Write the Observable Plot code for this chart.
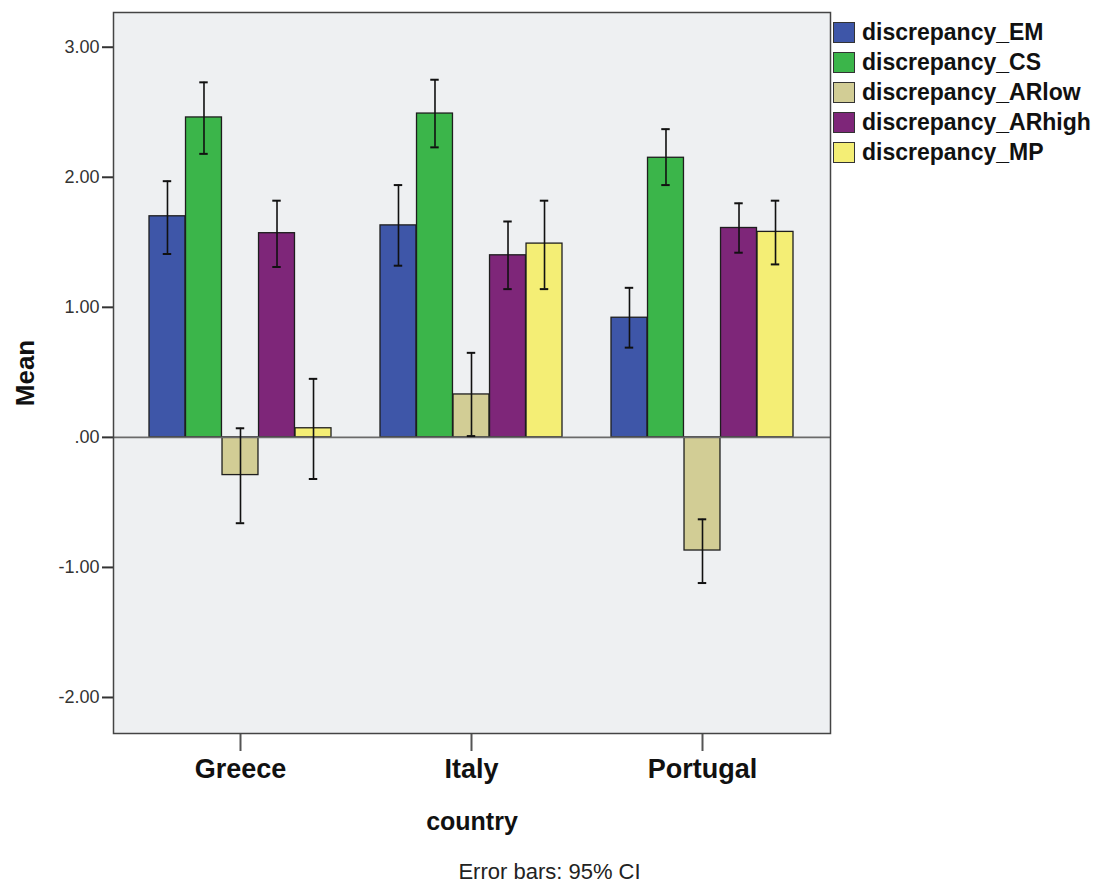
<!DOCTYPE html>
<html>
<head>
<meta charset="utf-8">
<script src="https://cdn.jsdelivr.net/npm/d3@7"></script>
<script src="https://cdn.jsdelivr.net/npm/@observablehq/plot@0.6"></script>
<style>
  body { margin: 0; background: #fff; }
  #wrap { position: relative; width: 1099px; height: 886px; font-family: "Liberation Sans", Arial, sans-serif; }
  #wrap svg g[aria-label^="x-axis"] text { font-size: 27px; font-weight: bold; fill: #111; }
  #wrap svg g[aria-label^="y-axis"] text { font-size: 18px; fill: #333; }
  #wrap svg g[aria-label^="x-axis"] path, #wrap svg g[aria-label^="x-axis"] line { stroke: #555; stroke-width: 2; }
  #wrap svg g[aria-label^="y-axis"] path, #wrap svg g[aria-label^="y-axis"] line { stroke: #333; stroke-width: 2; }
  .legend { position: absolute; left: 833px; top: 17px; }
  .legend .row { display: flex; align-items: center; height: 30px; }
  .legend .sw { width: 20px; height: 19px; border: 1.5px solid #333; box-sizing: content-box; margin-right: 7px; }
  .legend .lab { font-size: 23px; font-weight: bold; color: #111; white-space: nowrap; }
  .caption { position: absolute; left: 0; width: 1099px; top: 861px; text-align: center; font-size: 22px; color: #222; line-height: 22px; }
</style>
</head>
<body>
<div id="wrap"></div>
<script>
const countries = ["Greece", "Italy", "Portugal"];
const series = ["discrepancy_EM", "discrepancy_CS", "discrepancy_ARlow", "discrepancy_ARhigh", "discrepancy_MP"];
const colors = ["#3e56a8", "#3bb54a", "#d2cd95", "#7e2679", "#f4ee75"];

// means per series, in country order
const meanEM     = [1.70, 1.63, 0.92];
const meanCS     = [2.46, 2.49, 2.15];
const meanARlow  = [-0.29, 0.33, -0.87];
const meanARhigh = [1.57, 1.40, 1.61];
const meanMP     = [0.07, 1.49, 1.58];
// 95% CI lower bounds
const loEM     = [1.41, 1.32, 0.69];
const loCS     = [2.18, 2.23, 1.94];
const loARlow  = [-0.66, 0.01, -1.12];
const loARhigh = [1.31, 1.14, 1.42];
const loMP     = [-0.32, 1.14, 1.33];
// 95% CI upper bounds
const hiEM     = [1.97, 1.94, 1.15];
const hiCS     = [2.73, 2.75, 2.37];
const hiARlow  = [0.07, 0.65, -0.63];
const hiARhigh = [1.82, 1.66, 1.80];
const hiMP     = [0.45, 1.82, 1.82];

const yTicks = [-2, -1, 0, 1, 2, 3];

const means = [meanEM, meanCS, meanARlow, meanARhigh, meanMP];
const lows  = [loEM, loCS, loARlow, loARhigh, loMP];
const highs = [hiEM, hiCS, hiARlow, hiARhigh, hiMP];

const rows = [];
series.forEach((s, i) => countries.forEach((c, j) => {
  rows.push({series: s, si: i, country: c, mean: means[i][j], lo: lows[i][j], hi: highs[i][j]});
}));

const W = 1099, H = 850;
const mL = 113, mR = W - 830, mT = 12, mB = H - 733;
const pInner = 0.211, pOuter = 0.155;
const plotW = W - mL - mR;
const step = plotW / (countries.length - pInner + 2 * pOuter);
const bandW = step * (1 - pInner);
const bw = bandW / series.length;
const capHalf = 4.5;

const marks = [Plot.frame({fill: "#eef0f2", stroke: null})];
series.forEach((s, i) => {
  const d = rows.filter(r => r.si === i);
  marks.push(Plot.barY(d, {
    x: "country", y: "mean", fill: colors[i], stroke: "#1e1e1e", strokeWidth: 1.3,
    insetLeft: i * bw, insetRight: (series.length - 1 - i) * bw
  }));
});
marks.push(Plot.ruleY([0], {stroke: "#6a6a6a", strokeWidth: 1.6}));
series.forEach((s, i) => {
  const d = rows.filter(r => r.si === i);
  const c = (i + 0.5) * bw;
  marks.push(Plot.ruleX(d, {x: "country", y1: "lo", y2: "hi", dx: c - bandW / 2, stroke: "#111", strokeWidth: 1.6}));
  marks.push(Plot.tickY(d, {x: "country", y: "hi", insetLeft: c - capHalf, insetRight: bandW - c - capHalf, stroke: "#111", strokeWidth: 2}));
  marks.push(Plot.tickY(d, {x: "country", y: "lo", insetLeft: c - capHalf, insetRight: bandW - c - capHalf, stroke: "#111", strokeWidth: 2}));
});
marks.push(Plot.frame({stroke: "#444", strokeWidth: 1.5}));
marks.push(Plot.text(["Mean"], {text: d => d, frameAnchor: "left", textAnchor: "middle", lineAnchor: "middle", dx: -88, rotate: -90, fontSize: 26, fontWeight: "bold", fill: "#111"}));
marks.push(Plot.text(["country"], {text: d => d, frameAnchor: "bottom", lineAnchor: "middle", dy: 88, fontSize: 25, fontWeight: "bold", fill: "#111"}));

const chart = Plot.plot({
  width: W, height: H,
  marginLeft: mL, marginRight: mR, marginTop: mT, marginBottom: mB,
  style: {fontFamily: "Liberation Sans, Arial, sans-serif", fontSize: "18px", color: "#333", background: "transparent", overflow: "visible"},
  x: {domain: countries, paddingInner: pInner, paddingOuter: pOuter, label: null, tickSize: 18, tickPadding: 7},
  y: {domain: [-2.277, 3.267], ticks: yTicks, tickFormat: d => d3.format(".2f")(d).replace(/\u2212/, "-").replace(/^0/, ""), label: null, tickSize: 11, tickPadding: 3},
  marks
});

const wrap = document.getElementById("wrap");
wrap.appendChild(chart);

const legend = document.createElement("div");
legend.className = "legend";
series.forEach((s, i) => {
  const row = document.createElement("div");
  row.className = "row";
  const sw = document.createElement("div");
  sw.className = "sw";
  sw.style.background = colors[i];
  const lab = document.createElement("div");
  lab.className = "lab";
  lab.textContent = s;
  row.appendChild(sw); row.appendChild(lab);
  legend.appendChild(row);
});
wrap.appendChild(legend);

const cap = document.createElement("div");
cap.className = "caption";
cap.textContent = "Error bars: 95% CI";
wrap.appendChild(cap);
</script>
</body>
</html>
